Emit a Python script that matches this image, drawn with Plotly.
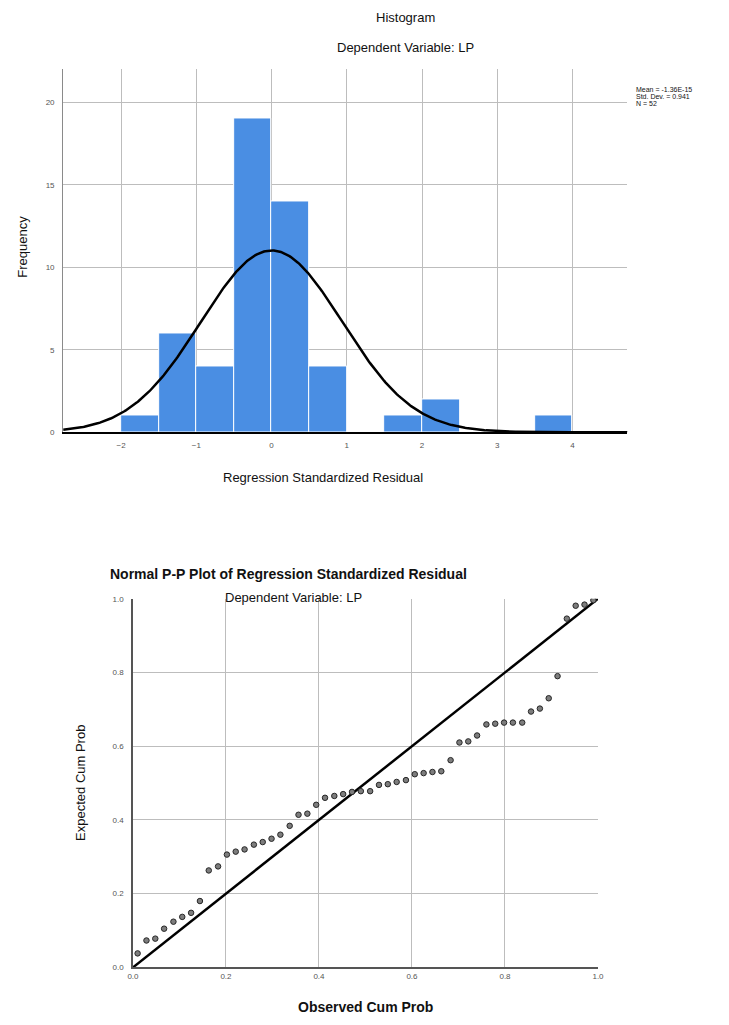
import numpy as np
import plotly.graph_objects as go

# page body adds an 8px margin; figure is sized to fit the 729x1025 window
OFF = 8
W, H = 729 - 2 * OFF, 1025 - 2 * OFF

# ---------------- Histogram data ----------------
bin_left = [-2.0, -1.5, -1.0, -0.5, 0.0, 0.5, 1.0, 1.5, 2.0, 2.5, 3.0, 3.5]
bin_count = [1, 6, 4, 19, 14, 4, 0, 1, 2, 0, 0, 1]
bin_width = 0.5
resid_mean = -1.36e-15
resid_sd = 0.941
resid_n = 52
hist_xticks = [-2, -1, 0, 1, 2, 3, 4]
hist_yticks = [0, 5, 10, 15, 20]
legend_lines = ["Mean = -1.36E-15", "Std. Dev. = 0.941", "N = 52"]

# ---------------- P-P plot data ----------------
observed_cum = [0.010, 0.029, 0.048, 0.067, 0.087, 0.106, 0.125, 0.144, 0.163, 0.183,
                0.202, 0.221, 0.240, 0.260, 0.279, 0.298, 0.317, 0.337, 0.356, 0.375,
                0.394, 0.413, 0.433, 0.452, 0.471, 0.490, 0.510, 0.529, 0.548, 0.567,
                0.587, 0.606, 0.625, 0.644, 0.663, 0.683, 0.702, 0.721, 0.740, 0.760,
                0.779, 0.798, 0.817, 0.837, 0.856, 0.875, 0.894, 0.913, 0.933, 0.952,
                0.971, 0.990]
expected_cum = [0.038, 0.073, 0.078, 0.105, 0.124, 0.137, 0.148, 0.180, 0.263, 0.274,
                0.306, 0.314, 0.320, 0.333, 0.340, 0.349, 0.360, 0.384, 0.414, 0.417,
                0.441, 0.460, 0.465, 0.470, 0.476, 0.478, 0.478, 0.495, 0.497, 0.503,
                0.508, 0.524, 0.527, 0.530, 0.532, 0.562, 0.610, 0.613, 0.629, 0.659,
                0.661, 0.664, 0.664, 0.664, 0.694, 0.702, 0.730, 0.790, 0.946, 0.981,
                0.984, 0.996]
diag_x = [0.0, 1.0]
diag_y = [0.0, 1.0]
pp_ticks = [0.0, 0.2, 0.4, 0.6, 0.8, 1.0]
pp_ticktext = ["0.0", "0.2", "0.4", "0.6", "0.8", "1.0"]

FONT = "Liberation Sans, Arial, sans-serif"


def px(x):
    return (x - OFF) / W


def py(y):
    return 1 - (y - OFF) / H


fig = go.Figure()

# histogram bars
bin_center = [b + bin_width / 2 for b in bin_left]
fig.add_trace(go.Bar(
    x=bin_center, y=bin_count, width=bin_width,
    marker=dict(color="#4a8ee3", line=dict(color="white", width=1)),
    xaxis="x", yaxis="y", showlegend=False, hoverinfo="skip"))

# normal curve
hx_min, hx_max = -2.77, 4.73
cx = np.linspace(hx_min, hx_max, 400)
cy = resid_n * bin_width / (resid_sd * np.sqrt(2 * np.pi)) * np.exp(-0.5 * ((cx - resid_mean) / resid_sd) ** 2)
fig.add_trace(go.Scatter(x=cx, y=cy, mode="lines", line=dict(color="black", width=2.5),
                         xaxis="x", yaxis="y", showlegend=False, hoverinfo="skip"))

# P-P diagonal
fig.add_trace(go.Scatter(x=diag_x, y=diag_y, mode="lines", line=dict(color="black", width=2.5),
                         xaxis="x2", yaxis="y2", showlegend=False, hoverinfo="skip"))
# P-P points
fig.add_trace(go.Scatter(x=observed_cum, y=expected_cum, mode="markers",
                         marker=dict(size=5.5, color="#7d7d7d", line=dict(color="#262626", width=1)),
                         xaxis="x2", yaxis="y2", showlegend=False, hoverinfo="skip"))

grid_col = "#bdbdbd"
tickfont = dict(family=FONT, size=8, color="#555")

fig.update_layout(
    width=W, height=H,
    margin=dict(l=0, r=0, t=0, b=0),
    paper_bgcolor="white", plot_bgcolor="white",
    font=dict(family=FONT, color="#111"),
    bargap=0,
    xaxis=dict(domain=[px(58), px(632)], range=[hx_min, hx_max], anchor="y",
               tickvals=hist_xticks, ticks="", showgrid=True, gridcolor=grid_col, gridwidth=1,
               zeroline=False, showline=True, linecolor="black", linewidth=2,
               tickfont=tickfont, ticklabelstandoff=4),
    yaxis=dict(domain=[py(432), py(66)], range=[0, 22.0], anchor="x",
               tickvals=hist_yticks, ticks="", showgrid=True, gridcolor=grid_col, gridwidth=1,
               zeroline=False, showline=True, linecolor="#8a8a8a", linewidth=1,
               tickfont=tickfont, ticklabelstandoff=6),
    xaxis2=dict(domain=[px(129), px(602)], range=[0, 1], anchor="y2",
                tickvals=pp_ticks, ticktext=pp_ticktext, ticks="", showgrid=True,
                gridcolor=grid_col, gridwidth=1, zeroline=False, showline=True,
                linecolor="#555", linewidth=1.5, tickfont=tickfont),
    yaxis2=dict(domain=[py(972), py(600)], range=[0, 1], anchor="x2",
                tickvals=pp_ticks, ticktext=pp_ticktext, ticks="", showgrid=True,
                gridcolor=grid_col, gridwidth=1, zeroline=False, showline=True,
                linecolor="#555", linewidth=1.5, tickfont=tickfont, ticklabelstandoff=6),
)


def ann(text, x, y, size, bold=False, angle=0, xanchor="center", yanchor="middle", color="#111"):
    fig.add_annotation(text=("<b>%s</b>" % text) if bold else text,
                       x=px(x), y=py(y), xref="paper", yref="paper",
                       showarrow=False, textangle=angle, xanchor=xanchor, yanchor=yanchor,
                       font=dict(family=FONT, size=size, color=color))


# histogram texts
ann("Histogram", 406, 14, 13)
ann("Dependent Variable: LP", 406, 44, 13)
ann("Frequency", 17, 245, 13, angle=-90)
ann("Regression Standardized Residual", 322, 478, 13)
for i, line in enumerate(legend_lines):
    ann(line, 639, 86 + i * 7, 7, xanchor="left")

# P-P texts
ann("Normal P-P Plot of Regression Standardized Residual", 287, 575, 14, bold=True)
ann("Dependent Variable: LP", 292, 599, 13)
ann("Expected Cum Prob", 75, 786, 13, angle=-90)
ann("Observed Cum Prob", 366, 1012, 14, bold=True)

fig.write_html("out.html")
